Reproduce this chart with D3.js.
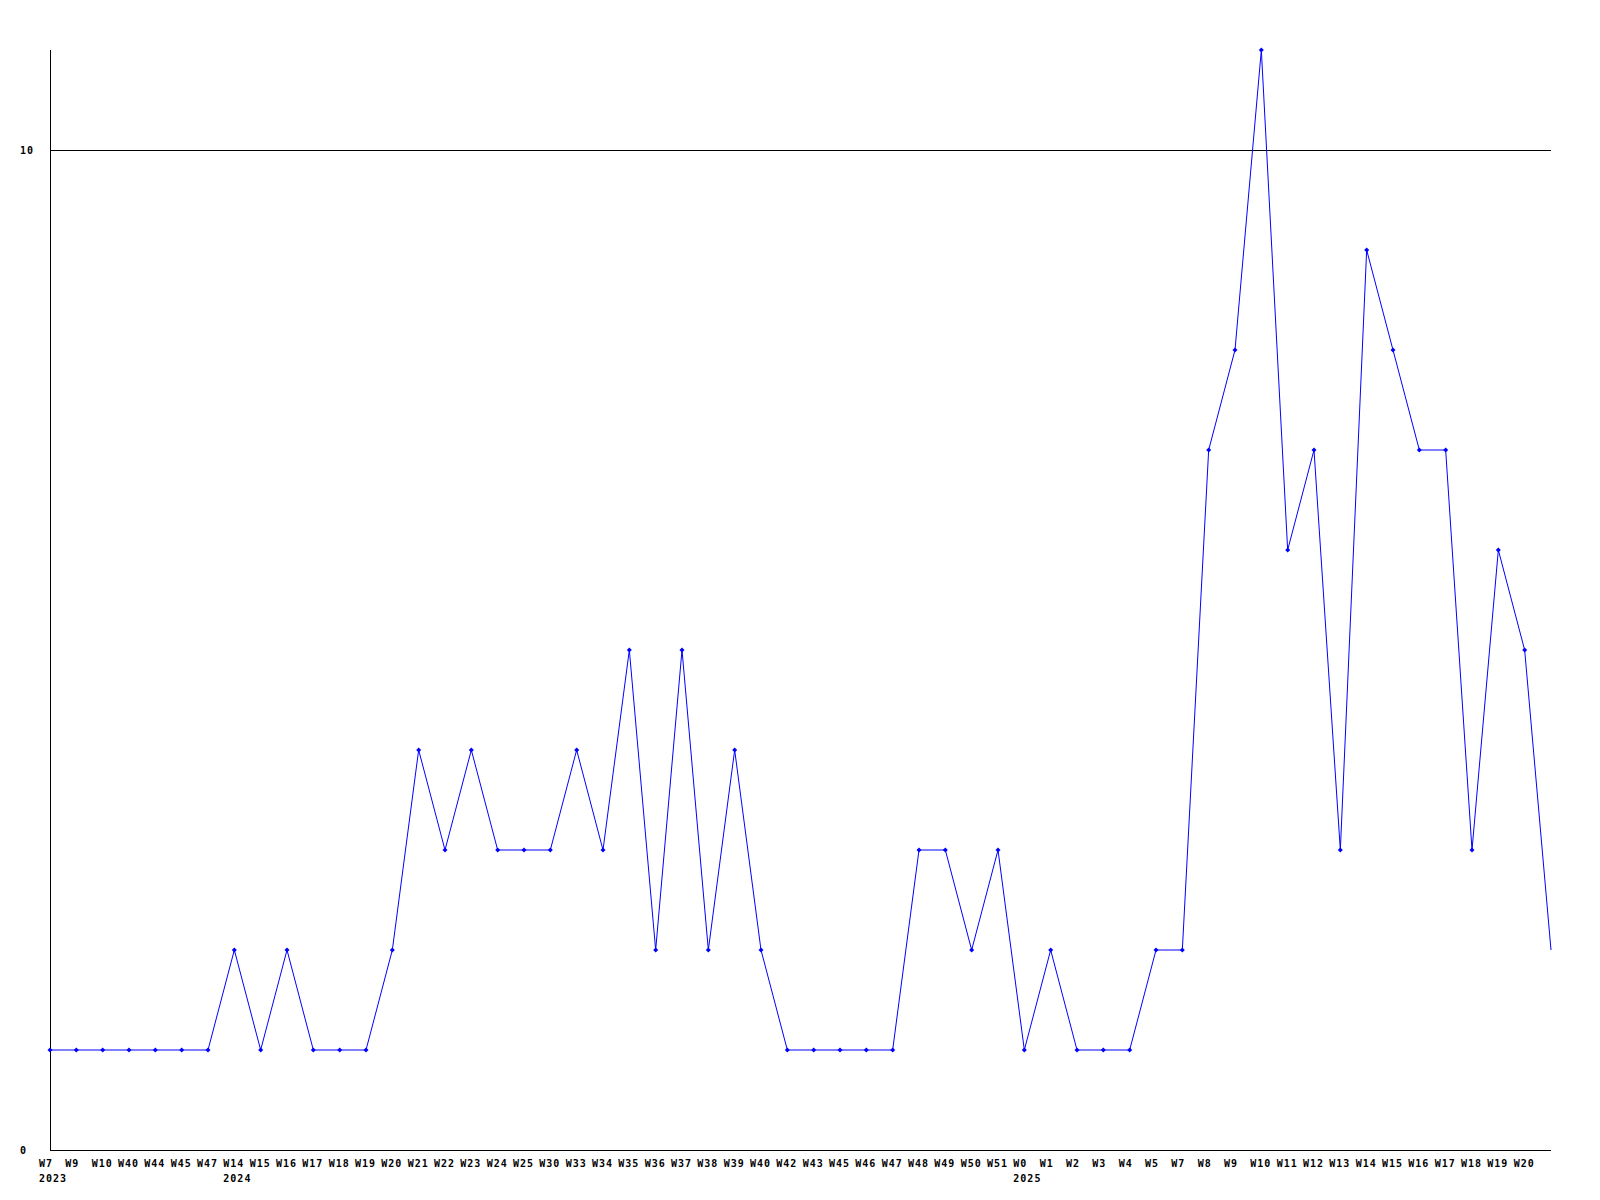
<!DOCTYPE html>
<html>
<head>
<meta charset="utf-8">
<script src="https://cdn.jsdelivr.net/npm/d3@7"></script>
<style>
  html, body { margin: 0; padding: 0; background: #fff; }
  svg { display: block; }
  text { font-family: "DejaVu Sans Mono", "Liberation Mono", monospace; font-weight: bold; font-size: 10px; letter-spacing: 1px; fill: #000; }
</style>
</head>
<body>
<svg id="chart" width="1600" height="1200"></svg>
<script>
const weeks = ["W7","W9","W10","W40","W44","W45","W47","W14","W15","W16","W17","W18","W19","W20","W21","W22","W23","W24","W25","W30","W33","W34","W35","W36","W37","W38","W39","W40","W42","W43","W45","W46","W47","W48","W49","W50","W51","W0","W1","W2","W3","W4","W5","W7","W8","W9","W10","W11","W12","W13","W14","W15","W16","W17","W18","W19","W20",""];
const years = ["2023","","","","","","","2024","","","","","","","","","","","","","","","","","","","","","","","","","","","","","","2025","","","","","","","","","","","","","","","","","","","",""];
const values = [1,1,1,1,1,1,1,2,1,2,1,1,1,2,4,3,4,3,3,3,4,3,5,2,5,2,4,2,1,1,1,1,1,3,3,2,3,1,2,1,1,1,2,2,7,8,11,6,7,3,9,8,7,7,3,6,5,2];
const yTicks = [0, 10];

const svg = d3.select("#chart");
const mLeft = 50, mRight = 1551, mTop = 50, mBottom = 1150;

const x = d3.scalePoint().domain(d3.range(values.length)).range([mLeft, mRight]);
const y = d3.scaleLinear().domain([0, 11]).range([mBottom, mTop]);

// gridline at 10
svg.append("g").selectAll("line").data(yTicks.filter(d => d > 0)).join("line")
  .attr("x1", mLeft).attr("x2", mRight)
  .attr("y1", d => Math.round(y(d)) + 0.5).attr("y2", d => Math.round(y(d)) + 0.5)
  .attr("stroke", "#000").attr("stroke-width", 1);

// axes
svg.append("line").attr("x1", mLeft + 0.5).attr("x2", mLeft + 0.5).attr("y1", mTop).attr("y2", mBottom + 1)
  .attr("stroke", "#000");
svg.append("line").attr("x1", mLeft).attr("x2", mRight).attr("y1", mBottom + 0.5).attr("y2", mBottom + 0.5)
  .attr("stroke", "#000");

// y labels
svg.append("g").selectAll("text").data(yTicks).join("text")
  .attr("x", 20).attr("y", d => y(d)).attr("dy", "0.35em")
  .text(d => d);

// x labels
svg.append("g").selectAll("text").data(weeks).join("text")
  .attr("x", (d, i) => x(i) - 11).attr("y", mBottom + 17)
  .text(d => d);
svg.append("g").selectAll("text").data(years).join("text")
  .attr("x", (d, i) => x(i) - 11).attr("y", mBottom + 32)
  .text(d => d);

// line
const line = d3.line().x((d, i) => x(i)).y(d => y(d));
svg.append("path").datum(values)
  .attr("d", line).attr("fill", "none").attr("stroke", "#0000ff").attr("stroke-width", 1);

// markers (the final, unlabeled point has none)
svg.append("g").selectAll("path").data(values.slice(0, values.length - 1)).join("path")
  .attr("transform", (d, i) => `translate(${x(i)},${y(d)})`)
  .attr("d", "M0,-2.5L2.5,0L0,2.5L-2.5,0Z")
  .attr("fill", "#0000ff");
</script>
</body>
</html>
